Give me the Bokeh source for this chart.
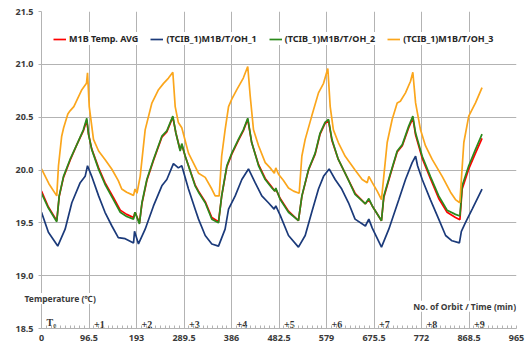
from bokeh.plotting import figure
from bokeh.models import (FixedTicker, PrintfTickFormatter, Legend, LegendItem,
                          Label, ColumnDataSource, Range1d)
from bokeh.embed import file_html
from bokeh.resources import INLINE

# ---------------- data ----------------
t_avg = [0, 14, 31, 36, 44.7, 58, 71.8, 85, 92, 95.5, 102, 116, 129, 146, 160, 173, 187, 190, 199,
         204, 214, 227.5, 244.5, 254.6, 266.8, 273, 281.7, 285, 292, 312, 319, 332.6, 346, 359.6,
         366, 376.5, 386.6, 400, 410, 419, 427, 441, 454.5, 468, 474, 476, 485, 501.8, 522,
         529, 542.5, 556, 566, 576, 583, 590, 603, 620, 637, 658, 665, 672, 690.7,
         695.4, 709, 722.6, 733, 746, 754.4, 760, 773.5, 790, 807, 824, 841, 850,
         854.6, 868, 881.7, 895]
v_avg = [19.80, 19.65, 19.52, 19.75, 19.93, 20.09, 20.24, 20.37, 20.47, 20.34, 20.20, 20.02, 19.88,
         19.74, 19.62, 19.58, 19.55, 19.60, 19.50,
         19.68, 19.90, 20.09, 20.31, 20.36, 20.50, 20.35, 20.19, 20.24, 20.13, 19.86, 19.80, 19.70,
         19.55, 19.51,
         19.75, 20.03, 20.15, 20.28, 20.37, 20.48, 20.26, 20.05, 19.92, 19.84, 19.80, 19.82, 19.73,
         19.61, 19.52,
         19.75, 20.00, 20.15, 20.34, 20.44, 20.47, 20.28, 20.10, 19.94, 19.78, 19.68, 19.72, 19.66,
         19.52,
         19.74, 19.96, 20.17, 20.23, 20.40, 20.49, 20.33, 20.11, 19.92, 19.73, 19.60, 19.55, 19.53,
         19.82, 20.01, 20.16, 20.30]

t_oh2 = t_avg
v_oh2 = [19.78, 19.64, 19.51, 19.755, 19.94, 20.10, 20.24, 20.38, 20.49, 20.34, 20.195, 20.006, 19.865,
         19.72, 19.60, 19.56, 19.535, 19.60, 19.49,
         19.69, 19.91, 20.10, 20.32, 20.37, 20.51, 20.35, 20.18, 20.25, 20.13, 19.85, 19.79, 19.69,
         19.535, 19.50,
         19.755, 20.04, 20.16, 20.29, 20.38, 20.49, 20.26, 20.04, 19.91, 19.83, 19.80, 19.83, 19.72,
         19.60, 19.52,
         19.755, 20.006, 20.16, 20.35, 20.45, 20.48, 20.29, 20.10, 19.94, 19.77, 19.68, 19.73, 19.66,
         19.52,
         19.755, 19.97, 20.18, 20.24, 20.415, 20.51, 20.35, 20.13, 19.94, 19.755, 19.62, 19.58, 19.565,
         19.85, 20.04, 20.195, 20.34]

t_oh1 = [0, 14, 33, 48, 61.6, 78.6, 88.7, 93.5, 102, 116, 129, 143, 156, 170, 187, 189, 197,
         210.6, 227.5, 244.5, 254.6, 268, 278, 285, 298.6, 312, 319, 332.6, 346, 359.6,
         373, 380, 393.5, 407, 420.5, 434, 447.6, 461, 472.7, 476, 485, 501.8, 522,
         535.7, 549, 562.7, 573, 584.4, 596.6, 610, 623.7, 637, 658, 665, 672, 690.7,
         705.6, 726, 739.5, 753, 760, 764, 773.5, 790, 807, 821, 834, 849,
         853, 861, 875, 895]
v_oh1 = [19.60, 19.41, 19.28, 19.44, 19.69, 19.88, 19.94, 20.04, 19.94, 19.755, 19.60, 19.47, 19.36,
         19.35, 19.31, 19.42, 19.30,
         19.44, 19.66, 19.85, 19.91, 20.06, 20.02, 20.04, 19.82, 19.63, 19.535, 19.38, 19.30, 19.28,
         19.44, 19.63, 19.755, 19.91, 20.01, 19.88, 19.755, 19.69, 19.63, 19.66, 19.57, 19.38, 19.27,
         19.38, 19.60, 19.82, 19.94, 20.01, 19.91, 19.82, 19.69, 19.535, 19.47, 19.535, 19.45, 19.27,
         19.44, 19.72, 19.91, 20.07, 20.13, 20.04, 19.91, 19.72, 19.535, 19.38, 19.33, 19.31,
         19.42, 19.50, 19.63, 19.82]

t_oh3 = [0, 15, 31, 34.5, 41, 45, 53.5, 58, 65.7, 82, 91.4, 93.5, 97, 105.6, 116, 129, 143, 156, 163,
         173, 187, 190, 194,
         200.5, 210.6, 224, 237.7, 248, 258, 266.8, 271.6, 278, 285, 298.6, 319, 332.6, 346,
         352.8, 361,
         366, 373, 380, 386.6, 396.8, 410, 419, 424, 430.7, 441, 454.5, 464.6, 473, 476, 481.5,
         491.6, 501.8, 512, 523.5,
         528.9, 535.7, 549, 562.7, 573, 581.7, 586.5, 593, 603, 617, 637, 651.5, 661.7, 665, 672,
         682, 690.7,
         695.4, 702.3, 712.5, 722.6, 729, 739.5, 749.7, 754.4, 760, 770, 780, 793.7, 814, 831,
         841, 849.8,
         853, 858, 868, 881.7, 895]
v_oh3 = [20.01, 19.87, 19.755, 20.04, 20.32, 20.40, 20.53, 20.56, 20.60, 20.76, 20.82, 20.92, 20.60,
         20.29, 20.18, 20.10, 20.007, 19.90, 19.82,
         19.79, 19.76, 19.82, 19.78,
         19.94, 20.38, 20.63, 20.76, 20.82, 20.87, 20.925, 20.60, 20.45, 20.40, 20.16, 19.97, 19.93,
         19.82, 19.755, 19.755,
         20.13, 20.38, 20.60, 20.67, 20.76, 20.87, 20.98, 20.70, 20.38, 20.23, 20.07, 20.02, 19.97,
         20.02, 19.96,
         19.90, 19.83, 19.80, 19.78,
         20.13, 20.29, 20.51, 20.73, 20.82, 20.96, 20.60, 20.38, 20.26, 20.13, 20.00, 19.91, 19.88,
         19.94, 19.88,
         19.80, 19.72,
         19.94, 20.26, 20.48, 20.635, 20.65, 20.73, 20.84, 20.925, 20.635, 20.38, 20.23, 20.10, 19.94,
         19.79,
         19.72, 19.69,
         19.91, 20.26, 20.51, 20.635, 20.78]

series_names = ["M1B Temp. AVG", "(TCIB_1)M1B/T/OH_1", "(TCIB_1)M1B/T/OH_2", "(TCIB_1)M1B/T/OH_3"]
series_colors = ["#ff0000", "#1b3a7a", "#2c8a1c", "#fba61c"]

x_ticks = [0, 96.5, 193, 289.5, 386, 482.5, 579, 675.5, 772, 868.5, 965]
x_tick_labels = ["0", "96.5", "193", "289.5", "386", "482.5", "579", "675.5", "772", "868.5", "965"]
y_ticks = [18.5, 19.0, 19.5, 20.0, 20.5, 21.0, 21.5]
orbit_labels = ["T\u2080", "+1", "+2", "+3", "+4", "+5", "+6", "+7", "+8", "+9"]
orbit_starts = x_ticks[:10]

# ---------------- figure ----------------
FONT = "Noto Sans"
TXT = "#3a3a3a"
GRID = "#b3b3b3"

p = figure(width=527, height=346, output_backend="svg", toolbar_location=None, title=None,
           x_range=Range1d(0, 965), y_range=Range1d(18.5, 21.5),
           min_border_left=41, min_border_right=11, min_border_top=10, min_border_bottom=18)
p.outline_line_color = None
p.background_fill_color = "white"
p.border_fill_color = "white"

minor = [i * 9.65 for i in range(101)]
p.xaxis.ticker = FixedTicker(ticks=x_ticks, minor_ticks=minor)
p.xaxis.major_label_overrides = {t: l for t, l in zip(x_ticks, x_tick_labels)}
p.yaxis.ticker = FixedTicker(ticks=y_ticks)
p.yaxis.formatter = PrintfTickFormatter(format="%.1f")

for ax in (p.xaxis[0], p.yaxis[0]):
    ax.axis_line_color = GRID
    ax.major_tick_line_color = GRID
    ax.minor_tick_line_color = GRID
    ax.major_label_text_font = FONT
    ax.major_label_text_font_size = "9px"
    ax.major_label_text_font_style = "bold"
    ax.major_label_text_color = TXT
p.xaxis.major_tick_in = 0
p.xaxis.major_tick_out = 0
p.xaxis.minor_tick_in = 3
p.xaxis.minor_tick_out = 0
p.xaxis.major_label_standoff = 6
p.yaxis.major_tick_in = 0
p.yaxis.major_tick_out = 3
p.yaxis.minor_tick_line_color = None
p.yaxis.major_label_standoff = 5

p.xgrid.grid_line_color = GRID
p.ygrid.grid_line_color = GRID
p.xgrid.ticker = FixedTicker(ticks=x_ticks)
p.ygrid.ticker = FixedTicker(ticks=y_ticks)

data = [(t_avg, v_avg), (t_oh1, v_oh1), (t_oh2, v_oh2), (t_oh3, v_oh3)]
renderers = []
for (tx, vy), c in zip(data, series_colors):
    r = p.line(tx, vy, line_color=c, line_width=1.7)
    renderers.append(r)

# orbit labels along the axis
osrc = ColumnDataSource(dict(x=orbit_starts, y=[18.5] * len(orbit_starts), t=orbit_labels))
p.text(x="x", y="y", text="t", source=osrc, x_offset=5, y_offset=-1,
       text_align="left", text_baseline="bottom", text_font_size="10px",
       text_font_style="bold", text_color="#333333", text_font=FONT)

legend = Legend(items=[LegendItem(label=n, renderers=[r]) for n, r in zip(series_names, renderers)],
                orientation="horizontal", location=(12, 283),
                label_text_font=FONT, label_text_font_size="9px", label_text_font_style="bold",
                label_text_color="#262626", glyph_width=13, glyph_height=12, label_height=12,
                label_standoff=3, spacing=12, padding=3, margin=0,
                background_fill_color="white", background_fill_alpha=1.0, border_line_color=None)
p.add_layout(legend, "center")

# y-axis caption: it straddles the axis line, so it lives in a side panel (not clipped to the frame)
p.add_layout(Label(x=-34.5, y=18.783, text="Temperature (\u2103)",
                   text_font=FONT, text_font_size="8.5px", text_font_style="bold", text_color=TXT,
                   text_baseline="middle", text_align="left", background_fill_color="white"),
             "above")
# x-axis caption inside the plot area, right aligned
p.add_layout(Label(x=964, y=18.71, text="No. of Orbit / Time (min)",
                   text_font=FONT, text_font_size="8.5px", text_font_style="bold", text_color=TXT,
                   text_baseline="middle", text_align="right", background_fill_color="white"))

open("out.html", "w").write(file_html(p, INLINE))
